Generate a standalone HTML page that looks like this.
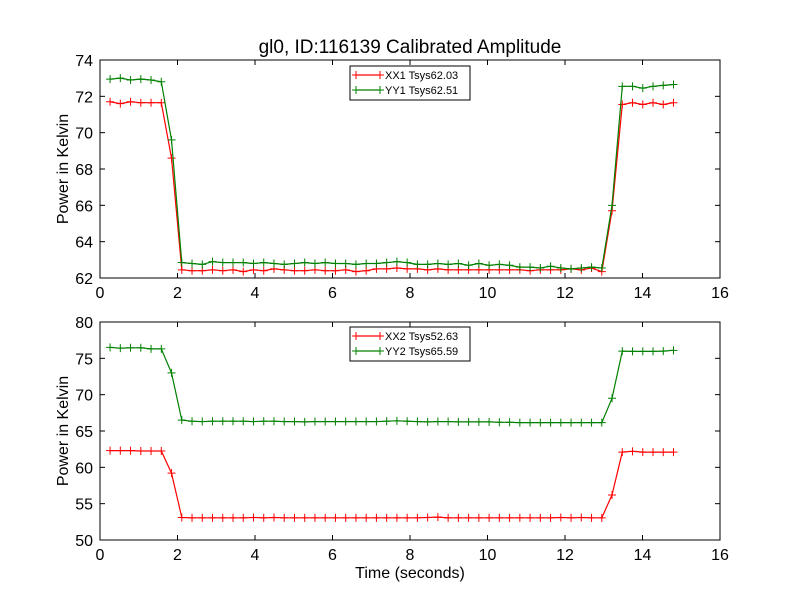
<!DOCTYPE html>
<html><head><meta charset="utf-8"><style>
body{margin:0;background:#fff}
svg{display:block;font-family:"Liberation Sans","DejaVu Sans",sans-serif}
</style></head><body>
<svg id="chart" width="800" height="600">
<text x="410" y="53" font-size="19" text-anchor="middle">gl0, ID:116139 Calibrated Amplitude</text>
<g id="top"></g>
<g id="bot"></g>
<text x="410" y="578" font-size="16" text-anchor="middle">Time (seconds)</text>
</svg>
<script>
const xTicks=[0,2,4,6,8,10,12,14,16];
const topYTicks=[62,64,66,68,70,72,74];
const botYTicks=[50,55,60,65,70,75,80];
const xx1High1=[71.7,71.6,71.7,71.65,71.65,71.65];
const xx1Low=[62.45,62.4,62.4,62.45,62.4,62.45,62.35,62.45,62.4,62.5,62.45,62.4,62.4,62.45,62.4,62.4,62.45,62.35,62.4,62.5,62.5,62.55,62.5,62.5,62.45,62.5,62.45,62.45,62.45,62.45,62.45,62.45,62.45,62.45,62.4,62.45,62.45,62.45,62.5,62.45,62.55,62.35];
const xx1High2=[71.55,71.65,71.55,71.65,71.55,71.65];
const yy1High1=[72.95,73.0,72.9,72.95,72.9,72.8];
const yy1Low=[62.85,62.8,62.75,62.9,62.85,62.85,62.85,62.8,62.85,62.8,62.75,62.8,62.85,62.8,62.85,62.8,62.8,62.75,62.8,62.8,62.85,62.9,62.85,62.75,62.75,62.8,62.75,62.8,62.7,62.8,62.7,62.75,62.7,62.6,62.6,62.55,62.65,62.55,62.5,62.55,62.6,62.55];
const yy1High2=[72.55,72.55,72.45,72.55,72.6,72.65];
const xx2High1=[62.3,62.3,62.3,62.25,62.25,62.25];
const xx2Low=[53.1,53.05,53.05,53.05,53.05,53.05,53.05,53.1,53.05,53.1,53.05,53.05,53.05,53.05,53.05,53.05,53.05,53.05,53.05,53.05,53.05,53.05,53.05,53.05,53.1,53.15,53.05,53.05,53.05,53.05,53.05,53.05,53.05,53.05,53.05,53.05,53.05,53.1,53.05,53.1,53.05,53.05];
const xx2High2=[62.1,62.2,62.1,62.1,62.1,62.1];
const yy2High1=[76.5,76.4,76.45,76.45,76.3,76.3];
const yy2Low=[66.5,66.35,66.3,66.35,66.35,66.35,66.35,66.3,66.35,66.35,66.3,66.3,66.25,66.3,66.3,66.3,66.3,66.3,66.3,66.3,66.35,66.4,66.35,66.3,66.25,66.3,66.3,66.25,66.25,66.25,66.25,66.2,66.2,66.15,66.15,66.15,66.15,66.15,66.15,66.15,66.15,66.15];
const yy2High2=[76.0,75.95,75.95,75.95,76.0,76.1];
const xx1Mid=[68.6,65.7], yy1Mid=[69.6,66.0], xx2Mid=[59.2,56.2], yy2Mid=[73.0,69.5];
const tStart=0.26, tEnd=14.8, nPts=56;
const times=[];for(let i=0;i<nPts;i++)times.push(tStart+i*(tEnd-tStart)/(nPts-1));
function build(h1,m,low,h2){return [...h1,m[0],...low,m[1],...h2];}
const NS="http://www.w3.org/2000/svg";
function mk(tag,attrs,parent){const e=document.createElementNS(NS,tag);for(const k in attrs)e.setAttribute(k,attrs[k]);parent.appendChild(e);return e;}
function panel(g,top,bottom,ymin,ymax,yTicks,series,legendY){
  const L=100,R=720;
  const sx=v=>L+(v-0)/(16-0)*(R-L);
  const sy=v=>bottom-(v-ymin)/(ymax-ymin)*(bottom-top);
  const fr=mk('rect',{x:L,y:top,width:R-L,height:bottom-top,fill:'#fff',stroke:'#000','stroke-width':1},g);
  
  
  xTicks.forEach(t=>{const x=sx(t);
    mk('line',{x1:x,y1:bottom,x2:x,y2:bottom-5,stroke:'#000'},g);
    mk('line',{x1:x,y1:top,x2:x,y2:top+5,stroke:'#000'},g);
    const tx=mk('text',{x:x,y:bottom+20,'font-size':16,'text-anchor':'middle'},g);tx.textContent=t;
    
    
  });
  yTicks.forEach(t=>{const y=sy(t);
    mk('line',{x1:L,y1:y,x2:L+5,y2:y,stroke:'#000'},g);
    mk('line',{x1:R,y1:y,x2:R-5,y2:y,stroke:'#000'},g);
    const tx=mk('text',{x:L-7,y:y+6,'font-size':16,'text-anchor':'end'},g);tx.textContent=t;
    
    
  });
  const yl=mk('text',{x:0,y:0,'font-size':16,'text-anchor':'middle',transform:`translate(68,${(top+bottom)/2}) rotate(-90)`},g);
  yl.textContent='Power in Kelvin';
  
  
  series.forEach(s=>{
    const sg=mk('g',{},g);
    
    
    const pts=s.vals.map((v,i)=>sx(times[i]).toFixed(1)+','+sy(v).toFixed(1)).join(' ');
    mk('polyline',{points:pts,fill:'none',stroke:s.color,'stroke-width':1.2},sg);
    s.vals.forEach((v,i)=>{const x=sx(times[i]),y=sy(v);
      mk('path',{d:`M${x-4},${y}H${x+4}M${x},${y-4}V${y+4}`,stroke:s.color,'stroke-width':1},sg);});
  });
  const lg=mk('g',{},g);
  
  
  mk('rect',{x:350,y:legendY,width:120,height:34,fill:'#fff',stroke:'#000'},lg);
  series.forEach((s,i)=>{const y=legendY+9+i*15;
    mk('line',{x1:356,y1:y,x2:380,y2:y,stroke:s.color,'stroke-width':1.2},lg);
    mk('path',{d:`M352,${y}h8M356,${y-4}v8M376,${y}h8M380,${y-4}v8`,stroke:s.color},lg);
    const tx=mk('text',{x:385,y:y+4,'font-size':11},lg);tx.textContent=s.name+' '+s.label;
    
    
  });
}
panel(document.getElementById('top'),60,278,62,74,topYTicks,[
 {name:'XX1',label:'Tsys62.03',color:'#ff0000',vals:build(xx1High1,xx1Mid,xx1Low,xx1High2)},
 {name:'YY1',label:'Tsys62.51',color:'#008000',vals:build(yy1High1,yy1Mid,yy1Low,yy1High2)}],66);
panel(document.getElementById('bot'),322,540,50,80,botYTicks,[
 {name:'XX2',label:'Tsys52.63',color:'#ff0000',vals:build(xx2High1,xx2Mid,xx2Low,xx2High2)},
 {name:'YY2',label:'Tsys65.59',color:'#008000',vals:build(yy2High1,yy2Mid,yy2Low,yy2High2)}],327);
</script>
</body></html>
